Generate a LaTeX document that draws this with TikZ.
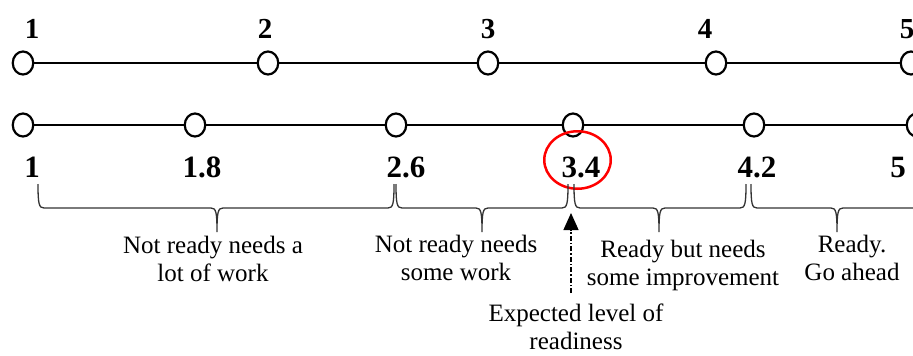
\documentclass[tikz,border=0pt]{standalone}
\usepackage{fontspec}
\setmainfont{Liberation Serif}
\usetikzlibrary{shapes.geometric,arrows.meta}
\newcommand{\mybrace}[3]{%
 \draw[brc] (#1,184) .. controls (#1,204) and (#1+1,208) .. (#1+6,208) -- (#3-6,208)
   .. controls (#3-1,208) and (#3,212) .. (#3,232)
   .. controls (#3,212) and (#3+1,208) .. (#3+6,208) -- (#2-6,208)
   .. controls (#2-1,208) and (#2,204) .. (#2,184);}
\begin{document}
\begin{tikzpicture}[x=1pt,y=-1pt,
  dot/.style={ellipse,draw,line width=2.2pt,fill=white,minimum width=20.5pt,minimum height=23pt,inner sep=0pt},
  tnum/.style={font=\fontsize{29}{29}\selectfont\bfseries,inner sep=0pt},
  bnum/.style={font=\fontsize{31}{31}\selectfont\bfseries,inner sep=0pt},
  axisline/.style={line width=2pt},
  lbl/.style={font=\fontsize{25}{28}\selectfont,align=center,inner sep=0pt,anchor=north},
  brc/.style={line width=1.3pt,draw=black!80},
  hilite/.style={ellipse,draw=red,line width=2.5pt,minimum width=66.5pt,minimum height=57.5pt,inner sep=0pt}
]
\useasboundingbox (0,0) rectangle (913,356);
\clip (0,0) rectangle (913,356);
% top scale
\node[dot] (t1) at (23,63) {};
\node[dot] (t2) at (268,63) {};
\node[dot] (t3) at (488,63) {};
\node[dot] (t4) at (716,63) {};
\node[dot] (t5) at (911,63) {};
\draw[axisline] (t1) -- (t2) (t2) -- (t3) (t3) -- (t4) (t4) -- (t5);
\node[tnum] (n1) at (32,29) {1};
\node[tnum] (n2) at (265,29) {2};
\node[tnum] (n3) at (488,29) {3};
\node[tnum] (n4) at (705,29) {4};
\node[tnum] (n5) at (907,29) {5};
% bottom scale
\node[dot] (b1) at (23,125) {};
\node[dot] (b2) at (195,125) {};
\node[dot] (b3) at (396,125) {};
\node[dot] (b4) at (573,125) {};
\node[dot] (b5) at (754,125) {};
\node[dot] (b6) at (917,125) {};
\draw[axisline] (b1) -- (b2) (b2) -- (b3) (b3) -- (b4) (b4) -- (b5) (b5) -- (b6);
\node[bnum] (m1) at (32,167.5) {1};
\node[bnum] (m2) at (202,167.5) {1.8};
\node[bnum] (m3) at (406,167.5) {2.6};
\node[bnum] (m4) at (581,167.5) {3.4};
\node[bnum] (m5) at (757,167.5) {4.2};
\node[bnum] (m6) at (898,167.5) {5};
\node[hilite] (hl) at (577.5,160) {};
% braces
\mybrace{38}{394}{217}
\mybrace{396}{568}{482}
\mybrace{574}{746}{659}
\mybrace{751}{923}{837}
% labels
\node[lbl] (l1) at (213,236) {Not ready needs a\\lot of work};
\node[lbl] (l2) at (456,235) {Not ready needs\\some work};
\node[lbl] (l3) at (683,240) {Ready but needs\\some improvement};
\node[lbl] (l4) at (852,235) {Ready.\\Go ahead};
\node[lbl] (l5) at (576,304) {Expected level of\\readiness};
% arrow
\coordinate (atip) at (571,213);
\coordinate (abot) at (571,293);
\draw[line width=1.3pt,dash pattern=on 5pt off 2pt on 1.5pt off 2pt,-{Triangle[length=17pt,width=15pt]}] (abot) -- (atip);
\end{tikzpicture}
\end{document}
